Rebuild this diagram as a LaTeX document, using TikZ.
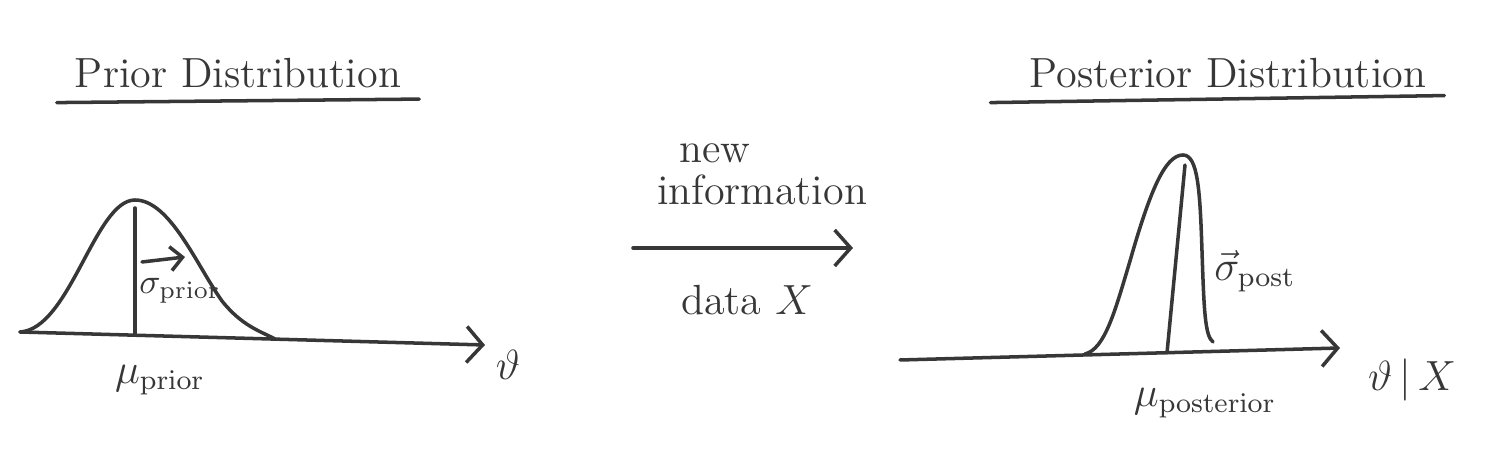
\documentclass[tikz,border=0pt]{standalone}
\usepackage{amsmath}
\usepackage{xcolor}
\definecolor{inkgray}{RGB}{55,55,55}
\usetikzlibrary{arrows.meta, positioning}

\begin{document}
\begin{tikzpicture}[
  ink/.style={draw=inkgray, line width=1pt, line cap=round, line join=round},
  inkarrow/.style={ink, -{Straight Barb[length=1.6mm, width=3.6mm]}},
  smallarrow/.style={ink, -{Straight Barb[length=1.2mm, width=2.4mm]}},
  lbl/.style={font=\large, text=inkgray, inner sep=1pt}
]
  \useasboundingbox (0,0) rectangle (15.09,4.51);

  % --- Prior panel ---
  \node[lbl] (titlePrior) at (2.38,3.78) {Prior Distribution};
  \draw[ink] ([xshift=-4pt,yshift=-3pt]titlePrior.south west) -- ([xshift=4pt,yshift=-2pt]titlePrior.south east);
  % axis and bell curve
  \coordinate (priorStart) at (0.20,1.19);
  \coordinate (priorEnd)   at (4.85,1.06);
  \coordinate (priorMean)  at (1.35,1.16);
  \coordinate (priorTop)   at (1.35,2.43);
  \draw[inkarrow] (priorStart) -- (priorEnd);
  \draw[ink] (priorStart) .. controls (0.70,1.22) and (0.95,2.51) .. (1.35,2.51)
    .. controls (1.70,2.51) and (1.97,1.85) .. (2.22,1.50)
    .. controls (2.42,1.25) and (2.60,1.20) .. (2.75,1.12);
  \draw[ink] (priorMean) -- (priorTop);
  % width of the prior
  \coordinate (sigmaFrom) at (1.42,1.89);
  \coordinate (sigmaTo)   at (1.85,1.94);
  \draw[smallarrow] (sigmaFrom) -- (sigmaTo);
  \node[lbl, font=\normalsize] (sigmaPrior) at (1.80,1.60) {$\sigma_{\mathrm{prior}}$};
  \node[lbl] (muPrior)    at (1.60,0.71) {$\mu_{\mathrm{prior}}$};
  \node[lbl] (thetaPrior) at (5.08,0.86) {$\vartheta$};

  % --- Update step ---
  \node[lbl] (newWord)  at (7.15,2.98) {new};
  \node[lbl] (infoWord) at (7.62,2.61) {information};
  \coordinate (updStart) at (6.33,2.03);
  \coordinate (updEnd)   at (8.53,2.03);
  \draw[inkarrow] (updStart) -- (updEnd);
  \node[lbl] (dataX) at (7.47,1.51) {data $X$};

  % --- Posterior panel ---
  \node[lbl] (titlePost) at (12.28,3.78) {Posterior Distribution};
  \draw[ink] ([xshift=-10pt,yshift=-3pt]titlePost.south west) -- ([xshift=4pt,yshift=-1pt]titlePost.south east);
  % axis and narrow curve
  \coordinate (postStart) at (9.00,0.91);
  \coordinate (postEnd)   at (13.40,1.03);
  \coordinate (postMean)  at (11.67,0.98);
  \coordinate (postTop)   at (11.85,2.86);
  \draw[inkarrow] (postStart) -- (postEnd);
  \draw[ink] (10.85,0.97) .. controls (11.05,1.02) and (11.15,1.40) .. (11.30,1.90)
    .. controls (11.50,2.60) and (11.65,2.96) .. (11.83,2.96)
    .. controls (11.98,2.96) and (12.00,2.60) .. (12.02,2.00)
    .. controls (12.04,1.40) and (12.05,1.15) .. (12.13,1.09);
  \draw[ink] (postMean) -- (postTop);
  \node[lbl] (sigmaPost) at (12.55,1.80) {$\vec{\sigma}_{\mathrm{post}}$};
  \node[lbl] (muPost)    at (12.05,0.48) {$\mu_{\mathrm{posterior}}$};
  \node[lbl] (thetaPost) at (14.12,0.71) {$\vartheta\,|\,X$};
\end{tikzpicture}
\end{document}
